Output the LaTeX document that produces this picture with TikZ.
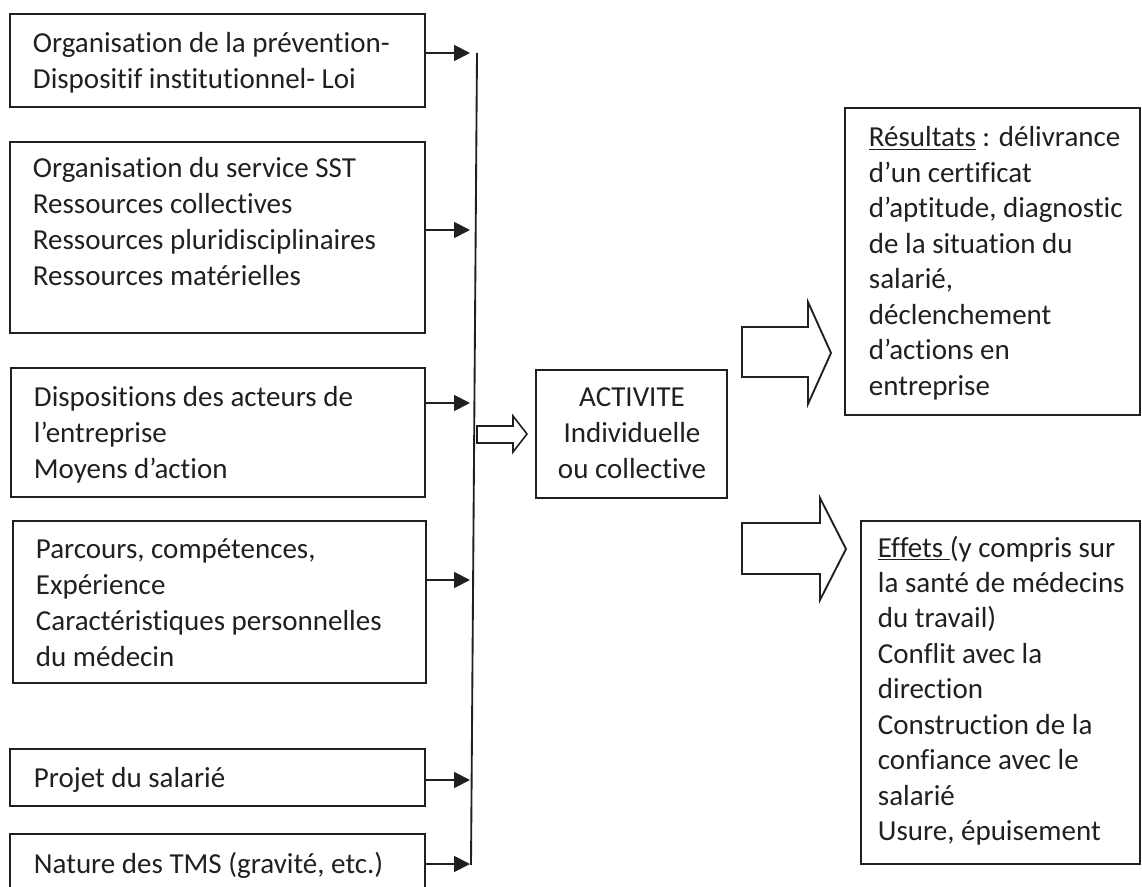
\documentclass[tikz,border=0pt]{standalone}
\usepackage{fontspec}
\setmainfont{Carlito}[Ligatures=NoCommon]
\usetikzlibrary{arrows.meta,fit}
\definecolor{ink}{HTML}{231F20}
\newcommand{\mylines}[1]{\begin{tabular}[t]{@{}l@{}}#1\end{tabular}}
\newcommand{\mylinesc}[1]{\begin{tabular}[t]{@{}c@{}}#1\end{tabular}}
\begin{document}
\begin{tikzpicture}[x=0.75pt,y=-0.75pt,
  line width=1.4pt, draw=ink, color=ink,
  boxa/.style={draw=ink, line width=1.4pt, inner sep=0pt},
  txtl/.style={inner sep=0pt, anchor=base west, font=\fontsize{21.75pt}{27pt}\selectfont},
  txtr/.style={inner sep=0pt, anchor=base west, font=\fontsize{21.75pt}{26.6pt}\selectfont},
  txtc/.style={inner sep=0pt, anchor=base, font=\fontsize{21.75pt}{27pt}\selectfont},
  arr/.style={-{Triangle[length=12pt,width=12pt]}, line width=1.4pt, draw=ink},
  blockarr/.style={draw=ink, line width=1.4pt, line join=miter, fill=white}]
\useasboundingbox (0,0) rectangle (1142,887);
\clip (0,0) rectangle (1142,887);

% left boxes
\node[boxa, fit={(10,14) (425,107)}] (b1) {};
\node[txtl] (t1) at (32,53) {\mylines{Organisation de la prévention-\\Dispositif institutionnel- Loi}};

\node[boxa, fit={(10,142) (425,333)}] (b2) {};
\node[txtl] (t2) at (32,178) {\mylines{Organisation du service SST\\Ressources collectives\\Ressources pluridisciplinaires\\Ressources matérielles}};

\node[boxa, fit={(11,368) (425,497)}] (b3) {};
\node[txtl] (t3) at (33,407) {\mylines{Dispositions des acteurs de\\l’entreprise\\Moyens d’action}};

\node[boxa, fit={(13,521) (426,683)}] (b4) {};
\node[txtl] (t4) at (35,558) {\mylines{Parcours, compétences,\\Expérience\\Caractéristiques personnelles\\du médecin}};

\node[boxa, fit={(10,749) (425,806)}] (b5) {};
\node[txtl] (t5) at (33,787) {Projet du salarié};

\node[boxa, fit={(10,834) (425,905)}] (b6) {};
\node[txtl] (t6) at (33,873) {Nature des TMS (gravité, etc.)};

% vertical collector line
\coordinate (vtop) at (477,53);
\coordinate (vbot) at (471,865);
\draw (vtop) -- (vbot);

% arrows into the collector
\coordinate (e1) at (470,53);
\coordinate (e2) at (470,230);
\coordinate (e3) at (470,403);
\coordinate (e4) at (470,580);
\coordinate (e5) at (470,780);
\coordinate (e6) at (470,864);
\draw[arr] (b1.east |- e1) -- (e1);
\draw[arr] (b2.east |- e2) -- (e2);
\draw[arr] (b3.east |- e3) -- (e3);
\draw[arr] (b4.east |- e4) -- (e4);
\draw[arr] (b5.east |- e5) -- (e5);
\draw[arr] (b6.east |- e6) -- (e6);

% activity box
\node[boxa, fit={(536,370) (727,498)}] (act) {};
\node[txtc] (tact) at (632,407) {\mylinesc{ACTIVITE\\Individuelle\\ou collective}};

% open arrow into activity
\draw[blockarr, line width=1.2pt] (477,426) -- (513,426) -- (513,416) -- (527,434) -- (513,452) -- (513,443) -- (477,443) -- cycle;

% results box
\node[boxa, fit={(845,108) (1140,415)}] (res) {};
\node[txtr] (tres) at (868,147) {\mylines{\underline{Résultats} : délivrance\\d’un certificat\\d’aptitude, diagnostic\\de la situation du\\salarié,\\déclenchement\\d’actions en\\entreprise}};

% effets box
\node[boxa, fit={(861,521) (1140,864)}] (eff) {};
\node[txtr] (teff) at (877,557) {\mylines{\underline{Effets\ }(y compris sur\\la santé de médecins\\du travail)\\Conflit avec la\\direction\\Construction de la\\confiance avec le\\salarié\\Usure, épuisement}};

% big block arrows
\draw[blockarr] (742,327) -- (808,327) -- (808,302) -- (831,353) -- (808,404) -- (808,377) -- (742,377) -- cycle;
\draw[blockarr] (742,523) -- (820,523) -- (820,498) -- (846,549) -- (820,600) -- (820,574) -- (742,574) -- cycle;
\end{tikzpicture}
\end{document}
